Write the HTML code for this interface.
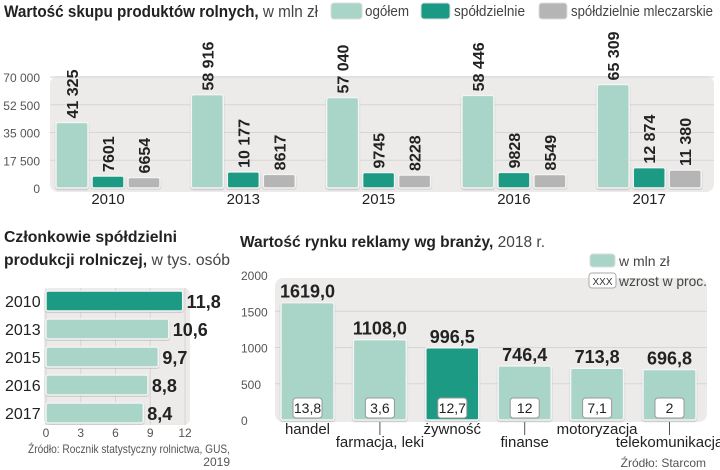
<!DOCTYPE html>
<html><head><meta charset="utf-8">
<style>
html,body{margin:0;padding:0;background:#fff;}
svg{display:block;font-family:"Liberation Sans",sans-serif;}
.b{font-weight:bold;}
</style></head>
<body>
<svg id="s" width="720" height="470" viewBox="0 0 720 470" xmlns="http://www.w3.org/2000/svg">
<defs>
<filter id="sh" x="-10%" y="-10%" width="120%" height="120%"><feDropShadow dx="0" dy="1" stdDeviation="0.8" flood-color="#999" flood-opacity="0.6"/></filter>
</defs>
<text x="4" y="17" font-size="17" class="b" fill="#222" textLength="314" lengthAdjust="spacingAndGlyphs">Wartość skupu produktów rolnych,<tspan font-weight="normal" fill="#444"> w mln zł</tspan></text>
<g>
<rect x="331" y="3" width="31" height="16" rx="3" fill="#a8d5c8" stroke="#ddd"/>
<text x="365" y="16" font-size="15" fill="#444" textLength="44" lengthAdjust="spacingAndGlyphs">ogółem</text>
<rect x="421" y="3" width="29" height="16" rx="3" fill="#1a9a84" stroke="#ddd"/>
<text x="454" y="16" font-size="15" fill="#444" textLength="71" lengthAdjust="spacingAndGlyphs">spółdzielnie</text>
<rect x="539" y="3" width="28" height="16" rx="3" fill="#b5b5b5" stroke="#ddd"/>
<text x="571" y="16" font-size="15" fill="#444" textLength="142" lengthAdjust="spacingAndGlyphs">spółdzielnie mleczarskie</text>
</g>
<g id="topg"></g>
<text x="4" y="242" font-size="16" class="b" fill="#222" textLength="173" lengthAdjust="spacingAndGlyphs">Członkowie spółdzielni</text>
<text x="4" y="265" font-size="16" class="b" fill="#222" textLength="226" lengthAdjust="spacingAndGlyphs">produkcji rolniczej,<tspan font-weight="normal" fill="#444"> w tys. osób</tspan></text>
<g id="mem"></g>
<text x="230" y="453" font-size="12" fill="#555" text-anchor="end" textLength="202" lengthAdjust="spacingAndGlyphs">Źródło: Rocznik statystyczny rolnictwa, GUS,</text>
<text x="230" y="466" font-size="12" fill="#555" text-anchor="end">2019</text>
<text x="240" y="247" font-size="16" class="b" fill="#222" textLength="305" lengthAdjust="spacingAndGlyphs">Wartość rynku reklamy wg branży,<tspan font-weight="normal" fill="#444"> 2018 r.</tspan></text>
<g id="ads"></g>
<g>
<rect x="590" y="254" width="25" height="13" rx="3" fill="#a8d5c8" stroke="#ddd"/>
<text x="619" y="266" font-size="14" fill="#444">w mln zł</text>
<rect x="589" y="273" width="27" height="15" rx="3" fill="#fff" stroke="#aaa"/>
<text x="602.5" y="285" font-size="10" fill="#333" text-anchor="middle">XXX</text>
<text x="619" y="286" font-size="14" fill="#444" textLength="88" lengthAdjust="spacingAndGlyphs">wzrost w proc.</text>
</g>
<text x="706" y="467" font-size="12" fill="#555" text-anchor="end">Źródło: Starcom</text>
</svg>
<script>
const years=["2010","2013","2015","2016","2017"];
const totalVals=[41325,58916,57040,58446,65309];
const coopVals=[7601,10177,9745,9828,12874];
const dairyVals=[6654,8617,8228,8549,11380];
const topTicks=[0,17500,35000,52500,70000];
const topTickLabels=["0","17 500","35 000","52 500","70 000"];

const memYears=["2010","2013","2015","2016","2017"];
const memVals=[11.8,10.6,9.7,8.8,8.4];
const memLabels=["11,8","10,6","9,7","8,8","8,4"];
const memTicks=[0,3,6,9,12];

const adCats=["handel","farmacja, leki","żywność","finanse","motoryzacja","telekomunikacja"];
const adVals=[1619.0,1108.0,996.5,746.4,713.8,696.8];
const adLabels=["1619,0","1108,0","996,5","746,4","713,8","696,8"];
const adGrowth=["13,8","3,6","12,7","12","7,1","2"];
const adTicks=[0,500,1000,1500,2000];

const NS="http://www.w3.org/2000/svg";
function mk(p,t,a,txt){const e=document.createElementNS(NS,t);for(const k in a)e.setAttribute(k,a[k]);if(txt!==undefined)e.textContent=txt;p.appendChild(e);return e;}
function fmt(v){return v>=10000?String(v).replace(/(\d+)(\d{3})$/,"$1 $2"):String(v);}

const topG=document.getElementById('topg');
const ty=v=>188-v*111/70000;
let bg=mk(topG,'rect',{x:50,y:76,width:664,height:116,rx:8,fill:'#ecebea'});


topTicks.forEach((t,i)=>{
 if(t>0){let l=mk(topG,'line',{x1:50,x2:714,y1:ty(t),y2:ty(t),stroke:'#d6d6d4','stroke-width':1});
 
 }
 let tx=mk(topG,'text',{x:40,y:ty(t)+5,'font-size':12,fill:'#555','text-anchor':'end'},topTickLabels[i]);
 
 
});
const series=[[totalVals,'#a8d5c8','total'],[coopVals,'#1a9a84','coops'],[dairyVals,'#b5b5b5','dairy']];
years.forEach((y,i)=>{
 const gx=56+i*135.3;
 series.forEach((s,j)=>{
  const x=gx+j*36,v=s[0][i],yt=ty(v);
  let r=mk(topG,'rect',{x:x,y:yt,width:32,height:188-yt,rx:2,fill:s[1],stroke:'#f4f4f4','stroke-width':1.5,filter:'url(#sh)'});
  
  
  let t=mk(topG,'text',{x:0,y:0,'font-size':16,'font-weight':'bold',fill:'#222',transform:'translate('+(x+22)+','+(yt-4)+') rotate(-90)'},fmt(v));
  
  
 });
 let yl=mk(topG,'text',{x:gx+52,y:204,'font-size':15,fill:'#222','text-anchor':'middle'},y);
 
 
});

const mem=document.getElementById('mem');
const mx=v=>46+v*(185-46)/12;
let mb=mk(mem,'rect',{x:44,y:288,width:146,height:137,rx:6,fill:'#ecebea'});


memTicks.forEach(t=>{
 let l=mk(mem,'line',{x1:mx(t),x2:mx(t),y1:288,y2:425,stroke:'#d6d6d4'});
 
 
 let tx=mk(mem,'text',{x:mx(t),y:437,'font-size':12,fill:'#555','text-anchor':'middle'},String(t));
 
 
});
memYears.forEach((y,i)=>{
 const cy=301+i*28;
 let r=mk(mem,'rect',{x:46,y:cy-10,width:mx(memVals[i])-46,height:20,rx:2,fill:i===0?'#1a9a84':'#a8d5c8',stroke:'#f4f4f4','stroke-width':1.5,filter:'url(#sh)'});
 
 
 let yl=mk(mem,'text',{x:5,y:cy+6,'font-size':16,fill:'#222'},y);
 
 
 let vl=mk(mem,'text',{x:mx(memVals[i])+4,y:cy+7,'font-size':18,'font-weight':'bold',fill:'#222'},memLabels[i]);
 
 
});

const ads=document.getElementById('ads');
const ay=v=>420-v*145/2000;
let ab=mk(ads,'rect',{x:275,y:278,width:432,height:144,rx:8,fill:'#ecebea'});


adTicks.forEach(t=>{
 if(t>0&&t<2000){let l=mk(ads,'line',{x1:275,x2:707,y1:ay(t),y2:ay(t),stroke:'#d6d6d4'});
 
 }
 let tx=mk(ads,'text',{x:241,y:ay(t)+5,'font-size':12,fill:'#555'},String(t));
 
 
});
adCats.forEach((c,i)=>{
 const x=281+i*72.4,yt=ay(adVals[i]);
 let r=mk(ads,'rect',{x:x,y:yt,width:53,height:420-yt,rx:2,fill:i===2?'#1a9a84':'#a8d5c8',stroke:'#f4f4f4','stroke-width':1.5,filter:'url(#sh)'});
 
 
 let vl=mk(ads,'text',{x:x+26.5,y:yt-5,'font-size':18,'font-weight':'bold',fill:'#222','text-anchor':'middle'},adLabels[i]);
 
 
 let gb=mk(ads,'rect',{x:x+12,y:398,width:29,height:20,rx:3,fill:'#fff',stroke:'#999'});
 
 
 let gt=mk(ads,'text',{x:x+26.5,y:413,'font-size':14,fill:'#222','text-anchor':'middle'},adGrowth[i]);
 
 
 const low=i%2===1;
 if(low){let l=mk(ads,'line',{x1:x+26.5,x2:x+26.5,y1:422,y2:435,stroke:'#555'});
  
  }
 let cl=mk(ads,'text',{x:x+26.5,y:low?447:434,'font-size':15,fill:'#222','text-anchor':'middle'},c);
 
 
});
</script>
</body></html>
